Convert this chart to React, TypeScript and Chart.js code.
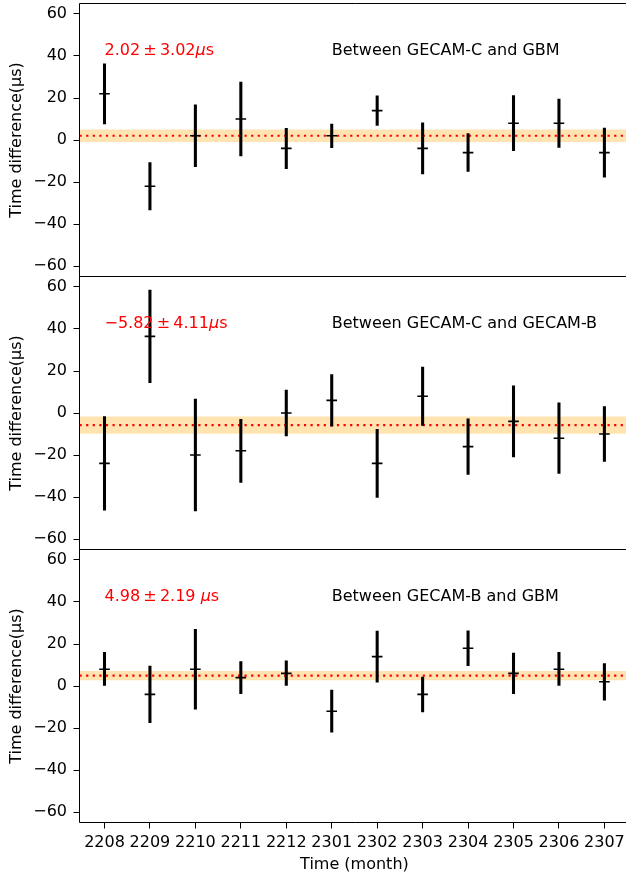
import React, { useEffect, useRef } from 'react';
import { Chart, registerables } from 'chart.js';

Chart.register(...registerables);

const MONTHS = ['2208', '2209', '2210', '2211', '2212', '2301', '2302', '2303', '2304', '2305', '2306', '2307'];
const Y_TICKS = [-60, -40, -20, 0, 20, 40, 60];

const P1_VAL = [22, -22, 2, 10, -4, 2, 14, -4, -6, 8, 8, -6];
const P1_ERR = [14.3, 11.3, 14.7, 17.6, 9.6, 5.6, 7.0, 12.2, 9.0, 13.1, 11.5, 11.7];
const P2_VAL = [-24, 36.5, -20, -18, 0, 6, -24, 8, -16, -4, -12, -10];
const P2_ERR = [22.3, 22.0, 26.6, 15.0, 10.9, 12.3, 16.2, 13.9, 13.2, 16.9, 16.8, 13.1];
const P3_VAL = [8, -4, 8, 4, 6, -12, 14, -4, 18, 6, 8, 2];
const P3_ERR = [8.0, 13.5, 19.0, 7.6, 6.0, 10.0, 12.2, 8.3, 8.3, 9.7, 8.0, 8.7];

const MEANS = [2.02, -5.82, 4.98];
const MEAN_ERRS = [3.02, 4.11, 2.19];
const RED_LABELS = [
  ['2.02\u2009\u00b1\u20093.02', '\u03bc', 's'],
  ['\u22125.82\u2009\u00b1\u20094.11', '\u03bc', 's'],
  ['4.98\u2009\u00b1\u20092.19 ', '\u03bc', 's'],
];
const PANEL_TITLES = ['Between GECAM-C and GBM', 'Between GECAM-C and GECAM-B', 'Between GECAM-B and GBM'];
const VALUES = [P1_VAL, P2_VAL, P3_VAL];
const ERRORS = [P1_ERR, P2_ERR, P3_ERR];

const FONT = 'DejaVu Sans';
const X_MIN = -0.55;
const X_MAX = 11.55;

const decorPlugin = {
  id: 'decor',
  afterDatasetsDraw(chart: any, _args: any, opts: any) {
    const { ctx, chartArea } = chart;
    const { left, right, top, bottom } = chartArea;
    const xs = chart.scales.x;
    const ys = chart.scales.y;
    const p = opts.panel as number;
    ctx.save();
    ctx.strokeStyle = '#000';
    ctx.lineWidth = 1;
    ctx.beginPath();
    ctx.moveTo(right + 2, top);
    ctx.lineTo(left, top);
    ctx.lineTo(left, bottom);
    ctx.lineTo(right + 2, bottom);
    ctx.stroke();

    ctx.textBaseline = 'middle';
    ctx.textAlign = 'left';
    let tx = xs.getPixelForValue(0);
    const ty = ys.getPixelForValue(42.5);
    const parts = RED_LABELS[p];
    ctx.fillStyle = '#ff0000';
    ctx.font = `16px "${FONT}"`;
    ctx.fillText(parts[0], tx, ty);
    tx += ctx.measureText(parts[0]).width;
    ctx.font = `italic 16px "${FONT}"`;
    ctx.fillText(parts[1], tx, ty);
    tx += ctx.measureText(parts[1]).width;
    ctx.font = `16px "${FONT}"`;
    ctx.fillText(parts[2], tx, ty);

    ctx.fillStyle = '#000';
    ctx.fillText(PANEL_TITLES[p], xs.getPixelForValue(5), ty);
    ctx.restore();
  },
};

function makeConfig(p: number, isBottom: boolean): any {
  const vals = VALUES[p];
  const errs = ERRORS[p];
  const m = MEANS[p];
  const e = MEAN_ERRS[p];
  return {
    type: 'bar',
    data: {
      datasets: [
        {
          type: 'scatter',
          order: 0,
          data: vals.map((v, i) => ({ x: i, y: v })),
          showLine: false,
          pointStyle: 'line',
          pointRadius: 5.3,
          pointBorderWidth: 1.6,
          borderColor: '#000',
          backgroundColor: '#000',
        },
        {
          type: 'bar',
          order: 1,
          data: vals.map((v, i) => ({ x: i, y: [v - errs[i], v + errs[i]] })),
          backgroundColor: '#000',
          barThickness: 2.4,
          borderWidth: 0,
        },
        {
          type: 'line',
          order: 2,
          data: [
            { x: X_MIN, y: m },
            { x: X_MAX, y: m },
          ],
          borderColor: '#ff0000',
          borderWidth: 2.2,
          borderDash: [2.2, 4.4],
          pointRadius: 0,
          fill: false,
        },
        {
          type: 'line',
          order: 3,
          data: [
            { x: X_MIN, y: m + e },
            { x: X_MAX, y: m + e },
          ],
          borderWidth: 0,
          borderColor: 'rgba(0,0,0,0)',
          pointRadius: 0,
          backgroundColor: 'rgba(255,165,0,0.3)',
          fill: { value: m - e },
        },
      ],
    },
    options: {
      animation: false,
      responsive: false,
      devicePixelRatio: 1,
      events: [],
      layout: {
        autoPadding: false,
        padding: { left: 0, right: 0.6, top: p === 0 ? 3.5 : 0.5, bottom: isBottom ? 0 : 0.5 },
      },
      plugins: {
        legend: { display: false },
        tooltip: { enabled: false },
        decor: { panel: p },
      },
      scales: {
        x: {
          type: 'linear',
          min: X_MIN,
          max: X_MAX,
          offset: false,
          display: isBottom,
          afterBuildTicks: (s: any) => {
            s.ticks = MONTHS.map((_, i) => ({ value: i }));
          },
          afterFit: (s: any) => {
            s.height = isBottom ? 52.5 : 0;
            s.paddingLeft = 0;
            s.paddingRight = 0;
            s.paddingTop = 0;
            s.paddingBottom = 0;
          },
          ticks: {
            callback: (v: any) => MONTHS[Math.round(v)] ?? '',
            color: '#000',
            font: { family: FONT, size: 16 },
            padding: 5,
            maxRotation: 0,
            autoSkip: false,
          },
          grid: {
            offset: false,
            drawOnChartArea: false,
            drawTicks: true,
            tickLength: 6,
            color: '#000',
            lineWidth: 1,
          },
          border: { display: false },
          title: {
            display: true,
            text: 'Time (month)',
            color: '#000',
            font: { family: FONT, size: 16 },
            padding: { top: 0, bottom: 0.5 },
          },
        },
        y: {
          type: 'linear',
          min: -65,
          max: 65,
          afterBuildTicks: (s: any) => {
            s.ticks = Y_TICKS.map((v) => ({ value: v }));
          },
          afterFit: (s: any) => {
            s.width = 79.5;
            s.paddingTop = 0;
            s.paddingBottom = 0;
            s.paddingLeft = 0;
            s.paddingRight = 0;
          },
          ticks: {
            callback: (v: any) => (v < 0 ? '\u2212' + Math.abs(v) : String(v)),
            color: '#000',
            font: { family: FONT, size: 16 },
            padding: 6.5,
          },
          grid: {
            drawOnChartArea: false,
            drawTicks: true,
            tickLength: 6,
            color: '#000',
            lineWidth: 1,
          },
          border: { display: false },
          title: {
            display: true,
            text: 'Time difference(\u03bcs)',
            color: '#000',
            font: { family: FONT, size: 16 },
            padding: { top: 7, bottom: 0 },
          },
        },
      },
    },
    plugins: [decorPlugin],
  };
}

const PANELS = [
  { top: 0, height: 277 },
  { top: 276, height: 274 },
  { top: 549, height: 326 },
];

function Panel({ index }: { index: number }) {
  const ref = useRef<HTMLCanvasElement | null>(null);
  useEffect(() => {
    if (!ref.current) return;
    const chart = new Chart(ref.current, makeConfig(index, index === 2));
    return () => chart.destroy();
  }, [index]);
  const { top, height } = PANELS[index];
  return (
    <canvas
      ref={ref}
      width={630}
      height={height}
      style={{ position: 'absolute', left: 0, top, width: 630, height }}
    />
  );
}

export default function App() {
  return (
    <div
      style={{
        position: 'absolute',
        left: 0,
        top: 0,
        width: 626,
        height: 875,
        overflow: 'hidden',
        background: '#fff',
      }}
    >
      <Panel index={0} />
      <Panel index={1} />
      <Panel index={2} />
    </div>
  );
}
